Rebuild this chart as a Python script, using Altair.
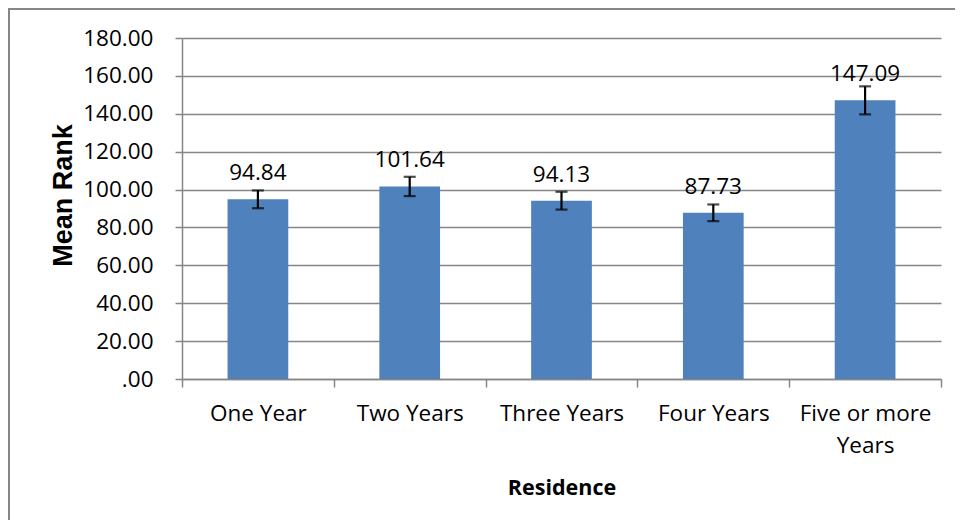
import altair as alt
import pandas as pd

categories = ["One Year", "Two Years", "Three Years", "Four Years", "Five or more Years"]
mean_rank = [94.84, 101.64, 94.13, 87.73, 147.09]
error = [4.7, 5.1, 4.7, 4.4, 7.4]
y_ticks = [0, 20, 40, 60, 80, 100, 120, 140, 160, 180]

df = pd.DataFrame({"Residence": categories, "Mean Rank": mean_rank, "err": error})
df["lo"] = df["Mean Rank"] - df["err"]
df["hi"] = df["Mean Rank"] + df["err"]

FONT = "Open Sans"
GRAY = "#868686"
FS = 22.5

x_axis = alt.Axis(
    title="Residence",
    labelAngle=0,
    labelFont=FONT,
    labelFontSize=FS,
    labelColor="#000000",
    labelPadding=15,
    labelLineHeight=32,
    labelLimit=300,
    labelOverlap=False,
    labelExpr="datum.label == 'Five or more Years' ? ['Five or more', 'Years'] : datum.label",
    tickBand="extent",
    tickSize=8,
    tickColor=GRAY,
    tickWidth=1.5,
    domainColor=GRAY,
    domainWidth=1.5,
    titleFont=FONT,
    titleFontSize=21.5,
    titleFontWeight="bold",
    titleColor="#000000",
    titleX=379.5,
    titleY=109,
    titleBaseline="middle",
)
x_scale = alt.Scale(paddingInner=0, paddingOuter=0)

y_axis = alt.Axis(
    title="Mean Rank",
    values=y_ticks,
    labelExpr="datum.value == 0 ? '.00' : format(datum.value, '.2f')",
    labelFont=FONT,
    labelFontSize=FS,
    labelColor="#000000",
    labelPadding=22,
    labelOverlap=False,
    labelBound=False,
    tickSize=7,
    tickColor=GRAY,
    tickWidth=1.5,
    domainColor=GRAY,
    domainWidth=1.5,
    gridColor=GRAY,
    gridWidth=1.5,
    titleFont="Liberation Sans",
    titleFontSize=27,
    titleFontWeight="bold",
    titleColor="#000000",
    titleX=-119,
    titleY=157,
    titleBaseline="middle",
    titleAngle=-90,
)
y_scale = alt.Scale(domain=[0, 180], nice=False)


def X():
    return alt.X("Residence:N", sort=categories, scale=x_scale, axis=x_axis)


def Y(field):
    return alt.Y(field, type="quantitative", scale=y_scale, axis=y_axis)


base = alt.Chart(df)

bars = base.mark_bar(color="#4F81BD", width={"band": 0.4}).encode(x=X(), y=Y("Mean Rank"))

rules = base.mark_rule(color="#000000", strokeWidth=2.2).encode(
    x=X(), y=Y("lo"), y2="hi:Q"
)

caps_lo = base.mark_tick(color="#000000", thickness=2.2, size=12).encode(x=X(), y=Y("lo"))
caps_hi = base.mark_tick(color="#000000", thickness=2.2, size=12).encode(x=X(), y=Y("hi"))

labels = base.mark_text(
    font=FONT, fontSize=FS, color="#000000", baseline="alphabetic", dy=-19
).encode(
    x=X(),
    y=Y("Mean Rank"),
    text=alt.Text("Mean Rank:Q", format=".2f"),
)

border = alt.Chart(alt.Data(values=[{"a": 1}])).mark_rect(
    filled=False, stroke=GRAY, strokeWidth=2
).encode(
    x=alt.value(-173), x2=alt.value(800), y=alt.value(-29), y2=alt.value(520)
)

chart = (
    alt.layer(bars, rules, caps_lo, caps_hi, labels, border)
    .properties(
        width=759,
        height=341,
        autosize=alt.AutoSizeParams(type="none"),
        padding={"left": 174, "top": 30, "right": 14, "bottom": 141},
        background="white",
    )
    .configure_view(stroke=None)
)

chart.save("out.html", embed_options={"renderer": "svg", "actions": False})
